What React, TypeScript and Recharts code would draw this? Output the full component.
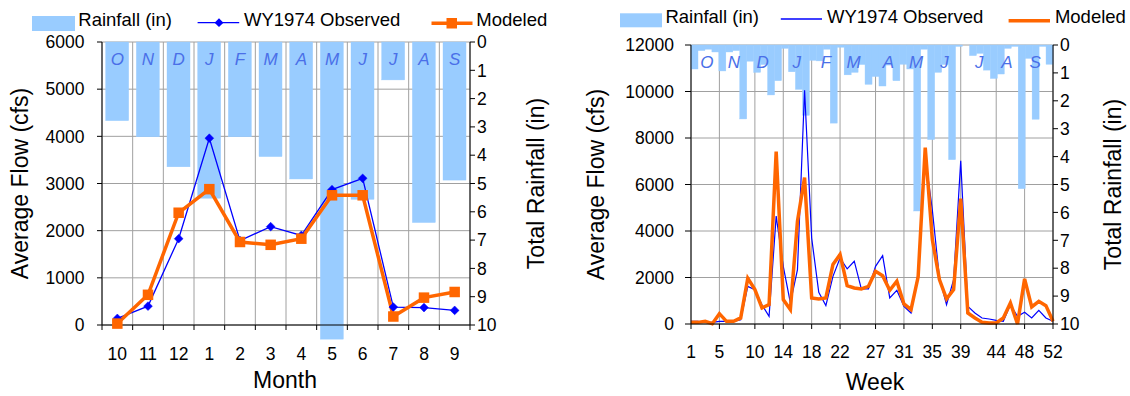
import React from 'react';
import { ComposedChart, Bar, Line, XAxis, YAxis, CartesianGrid, Legend } from 'recharts';

const FONT = '"Liberation Sans", Arial, Helvetica, sans-serif';
const RAIN_COLOR = '#99ccff';
const OBS_COLOR = '#0000ff';
const MOD_COLOR = '#ff6600';
const LETTER_COLOR = '#4a6fe8';
const GRID_COLOR = '#a0a0a0';
const RAIN_MAX = 10;

// ---------- Monthly (left chart) ----------
const months = [10, 11, 12, 1, 2, 3, 4, 5, 6, 7, 8, 9];
const monthLetters = ['O', 'N', 'D', 'J', 'F', 'M', 'A', 'M', 'J', 'J', 'A', 'S'];
const monthlyRain = [2.78, 3.35, 4.41, 5.52, 3.35, 4.05, 4.84, 10.5, 5.56, 1.34, 6.38, 4.88];
const monthlyObserved = [140, 400, 1830, 3960, 1790, 2085, 1900, 2870, 3110, 380, 370, 310];
const monthlyModeled = [30, 640, 2380, 2880, 1760, 1700, 1830, 2750, 2750, 180, 580, 700];
const monthlyFlowTicks = [0, 1000, 2000, 3000, 4000, 5000, 6000];
const rainTicks = [0, 1, 2, 3, 4, 5, 6, 7, 8, 9, 10];

// ---------- Weekly (right chart) ----------
const weeks = Array.from({ length: 52 }, (_, i) => i + 1);
const weeklyRain = [
  0.86, 0.2, 0.15, 0.25, 0.93, 0.25, 0.2, 2.65, 0.58, 0.98,
  0.7, 1.79, 1.28, 0.12, 0.96, 1.59, 2.52, 0.55, 0.57, 0.15,
  2.8, 0.08, 1.07, 0.98, 0.7, 1.41, 1.13, 1.47, 0.72, 1.28,
  0.69, 0.86, 5.95, 0.15, 3.39, 0.98, 0.7, 4.11, 0.05, 0.0,
  0.38, 0.3, 0.9, 1.2, 1.04, 0.12, 0.05, 5.15, 0.48, 2.66,
  0.05, 0.69,
];
const weeklyObserved = [
  115, 115, 72, 72, 115, 115, 115, 187, 1620, 1480,
  830, 330, 4640, 2480, 905, 2340, 10050, 3700, 1360, 790,
  2050, 2840, 2370, 2700, 1510, 1510, 2480, 2940, 1120, 1450,
  760, 474, 2200, 7200, 4900, 1980, 830, 1910, 7020, 760,
  474, 258, 215, 158, 115, 830, 330, 503, 258, 589,
  258, 115,
];
const weeklyModeled = [
  70, 70, 115, 15, 445, 115, 115, 260, 1970, 1480,
  690, 830, 7420, 1050, 617, 4420, 6300, 1120, 1080, 1120,
  2560, 2990, 1650, 1550, 1510, 1620, 2270, 2080, 1450, 1840,
  862, 617, 2030, 7590, 3630, 1910, 1080, 1480, 5390, 474,
  258, 72, 43, 43, 258, 905, 0, 1940, 732, 977,
  790, 115,
];
const weekTicks = [1, 5, 10, 14, 18, 22, 27, 31, 35, 39, 44, 48, 52];
const weeklyFlowTicks = [0, 2000, 4000, 6000, 8000, 10000, 12000];
const weeklyMonthLetterWeeks = [3.25, 7.06, 11.1, 15.9, 20.0, 23.9, 28.8, 32.7, 36.7, 41.6, 45.5, 49.5];

const monthlyData = months.map((m, i) => ({
  month: m,
  slot: i + 0.5,
  rain: monthlyRain[i],
  observed: monthlyObserved[i],
  modeled: monthlyModeled[i],
}));

const weeklyData = weeks.map((w, i) => ({
  week: w,
  rain: weeklyRain[i],
  observed: weeklyObserved[i],
  modeled: weeklyModeled[i],
}));

const boundaryTicks = months.map((_, i) => i).concat([months.length]);

const tickStyle = { fontSize: 17.5, fill: '#000', fontFamily: FONT };

const EmptyTick = () => <g />;

const RainShape = (props: any) => {
  const { x, y, width, height, payload } = props;
  if (x == null || y == null || !payload) return null;
  const full = payload.rain as number;
  const shown = Math.min(full, RAIN_MAX);
  const top = Math.min(y, y + height);
  const h = Math.abs(height);
  const total = shown > 0 ? (h * full) / shown : 0;
  return <rect x={x} y={top} width={width} height={total} fill={RAIN_COLOR} stroke={RAIN_COLOR} strokeWidth={0.4} />;
};

const rainValue = (d: any) => Math.min(d.rain, RAIN_MAX);

const makeLetterTick = (letters: string[]) => (props: any) => {
  const { x, y, index } = props;
  return (
    <text
      x={x}
      y={y + 23}
      textAnchor="middle"
      fill={LETTER_COLOR}
      fontSize={17}
      fontStyle="italic"
      fontFamily={FONT}
    >
      {letters[index]}
    </text>
  );
};

const DiamondDot = (props: any) => {
  const { cx, cy, index } = props;
  if (cx == null || cy == null) return null;
  const r = 4.4;
  return (
    <path
      key={`d-${index}`}
      d={`M${cx},${cy - r} L${cx + r},${cy} L${cx},${cy + r} L${cx - r},${cy} Z`}
      fill={OBS_COLOR}
      stroke={OBS_COLOR}
      strokeWidth={0.5}
    />
  );
};

const SquareDot = (props: any) => {
  const { cx, cy, index } = props;
  if (cx == null || cy == null) return null;
  const s = 10.5;
  return <rect key={`s-${index}`} x={cx - s / 2} y={cy - s / 2} width={s} height={s} fill={MOD_COLOR} />;
};

const vTitle = (text: string, x: number, y: number) => () => (
  <text
    transform={`translate(${x},${y}) rotate(-90)`}
    textAnchor="middle"
    fontSize={23}
    fontFamily={FONT}
    fill="#000"
  >
    {text}
  </text>
);

const hTitle = (text: string, x: number, y: number) => () => (
  <text x={x} y={y} textAnchor="middle" fontSize={23} fontFamily={FONT} fill="#000">
    {text}
  </text>
);

const LegendText = ({ x, y, children }: any) => (
  <text x={x} y={y} fontSize={18.5} fontFamily={FONT} fill="#000">
    {children}
  </text>
);

const LeftLegend = () => (
  <svg width={565} height={40} style={{ display: 'block', overflow: 'visible' }}>
    <rect x={32} y={16} width={43} height={15} fill={RAIN_COLOR} />
    <LegendText x={78.3} y={26}>Rainfall (in)</LegendText>
    <line x1={197.6} x2={239.2} y1={22.7} y2={22.7} stroke={OBS_COLOR} strokeWidth={1.3} />
    <path d="M219,18.3 L223.4,22.7 L219,27.1 L214.6,22.7 Z" fill={OBS_COLOR} />
    <LegendText x={244} y={26}>WY1974 Observed</LegendText>
    <line x1={431.5} x2={472.5} y1={23.3} y2={23.3} stroke={MOD_COLOR} strokeWidth={3.5} />
    <rect x={446.5} y={18} width={10.5} height={10.5} fill={MOD_COLOR} />
    <LegendText x={476.3} y={26}>Modeled</LegendText>
  </svg>
);

const RightLegend = () => (
  <svg width={565} height={40} style={{ display: 'block', overflow: 'visible' }}>
    <rect x={55} y={13.3} width={42} height={14} fill={RAIN_COLOR} />
    <LegendText x={100.4} y={22.5}>Rainfall (in)</LegendText>
    <line x1={215.8} x2={257} y1={19} y2={19} stroke={OBS_COLOR} strokeWidth={1.3} />
    <LegendText x={262} y={22.5}>WY1974 Observed</LegendText>
    <line x1={443.6} x2={485} y1={20.7} y2={20.7} stroke={MOD_COLOR} strokeWidth={3.5} />
    <LegendText x={489.9} y={22.5}>Modeled</LegendText>
  </svg>
);

const MonthlyChart = () => (
  <ComposedChart
    width={565}
    height={396}
    data={monthlyData}
    margin={{ top: 41, right: 0, bottom: 0, left: 0 }}
    barCategoryGap="12%"
  >
    <CartesianGrid xAxisId="a_grid" yAxisId="flow" stroke={GRID_COLOR} strokeWidth={1} />
    <XAxis
      xAxisId="a_grid"
      dataKey="slot"
      type="number"
      domain={[0, months.length]}
      allowDataOverflow
      ticks={boundaryTicks}
      interval={0}
      height={1}
      tick={EmptyTick}
      tickSize={5}
      tickLine={{ stroke: '#000' }}
      axisLine={{ stroke: '#000' }}
    />
    <XAxis
      xAxisId="b_cat"
      dataKey="month"
      height={70}
      interval={0}
      axisLine={false}
      tickLine={false}
      tickSize={5}
      tickMargin={16.5}
      tick={tickStyle}
      label={hTitle('Month', 285, 388.3)}
    />
    <XAxis
      xAxisId="letters"
      dataKey="month"
      orientation="top"
      interval={0}
      height={1}
      axisLine={false}
      tickLine={false}
      tickSize={0}
      tickMargin={0}
      tick={makeLetterTick(monthLetters)}
    />
    <YAxis
      yAxisId="flow"
      domain={[0, 6000]}
      ticks={monthlyFlowTicks}
      interval={0}
      width={102}
      tickSize={5}
      tickMargin={12.5}
      tick={tickStyle}
      tickLine={{ stroke: '#000' }}
      axisLine={{ stroke: '#000' }}
      label={vTitle('Average Flow (cfs)', 27.5, 183.5)}
    />
    <YAxis
      yAxisId="rain"
      orientation="right"
      reversed
      domain={[0, RAIN_MAX]}
      ticks={rainTicks}
      interval={0}
      width={95}
      tickSize={5}
      tickMargin={2}
      tick={tickStyle}
      tickLine={{ stroke: '#000' }}
      axisLine={{ stroke: '#000' }}
      label={vTitle('Total Rainfall (in)', 543.5, 183.5)}
    />
    <Bar
      xAxisId="b_cat"
      yAxisId="rain"
      dataKey={rainValue}
      name="Rainfall (in)"
      fill={RAIN_COLOR}
      shape={RainShape}
      isAnimationActive={false}
    />
    <Line
      xAxisId="b_cat"
      yAxisId="flow"
      dataKey="observed"
      name="WY1974 Observed"
      stroke={OBS_COLOR}
      strokeWidth={1.3}
      dot={DiamondDot}
      activeDot={false}
      type="linear"
      isAnimationActive={false}
    />
    <Line
      xAxisId="b_cat"
      yAxisId="flow"
      dataKey="modeled"
      name="Modeled"
      stroke={MOD_COLOR}
      strokeWidth={3.5}
      dot={SquareDot}
      activeDot={false}
      type="linear"
      isAnimationActive={false}
    />
    <Legend
      layout="horizontal"
      verticalAlign="middle"
      align="center"
      wrapperStyle={{ top: 0, left: 0, width: 565, height: 40 }}
      content={LeftLegend}
    />
  </ComposedChart>
);

const WeeklyChart = () => (
  <ComposedChart
    width={565}
    height={396}
    data={weeklyData}
    margin={{ top: 44, right: 0, bottom: 0, left: 0 }}
    barCategoryGap={0}
    barGap={0}
  >
    <CartesianGrid xAxisId="a_weeks" yAxisId="flow" stroke={GRID_COLOR} strokeWidth={1} />
    <XAxis
      xAxisId="a_weeks"
      dataKey="week"
      type="number"
      domain={[1, 52]}
      ticks={weekTicks}
      interval={0}
      height={72}
      tickSize={5}
      tickMargin={16.5}
      tick={tickStyle}
      tickLine={{ stroke: '#000' }}
      axisLine={{ stroke: '#000' }}
      label={hTitle('Week', 310, 390)}
    />
    <XAxis xAxisId="z_bars" dataKey="week" hide height={0} />
    <XAxis
      xAxisId="letters"
      dataKey="week"
      orientation="top"
      type="number"
      domain={[1, 52]}
      allowDataOverflow
      ticks={weeklyMonthLetterWeeks}
      interval={0}
      height={1}
      axisLine={false}
      tickLine={false}
      tickSize={0}
      tickMargin={0}
      tick={makeLetterTick(monthLetters)}
    />
    <YAxis
      yAxisId="flow"
      domain={[0, 12000]}
      ticks={weeklyFlowTicks}
      interval={0}
      width={126}
      tickSize={6}
      tickMargin={11}
      tick={tickStyle}
      tickLine={{ stroke: '#000' }}
      axisLine={{ stroke: '#000' }}
      label={vTitle('Average Flow (cfs)', 38.5, 184.5)}
    />
    <YAxis
      yAxisId="rain"
      orientation="right"
      reversed
      domain={[0, RAIN_MAX]}
      ticks={rainTicks}
      interval={0}
      width={77}
      tickSize={5}
      tickMargin={2}
      tick={tickStyle}
      tickLine={{ stroke: '#000' }}
      axisLine={{ stroke: '#000' }}
      label={vTitle('Total Rainfall (in)', 555.5, 184.5)}
    />
    <Bar
      xAxisId="z_bars"
      yAxisId="rain"
      dataKey={rainValue}
      name="Rainfall (in)"
      fill={RAIN_COLOR}
      shape={RainShape}
      isAnimationActive={false}
    />
    <Line
      xAxisId="a_weeks"
      yAxisId="flow"
      dataKey="observed"
      name="WY1974 Observed"
      stroke={OBS_COLOR}
      strokeWidth={1.2}
      dot={false}
      activeDot={false}
      type="linear"
      isAnimationActive={false}
    />
    <Line
      xAxisId="a_weeks"
      yAxisId="flow"
      dataKey="modeled"
      name="Modeled"
      stroke={MOD_COLOR}
      strokeWidth={3.5}
      dot={false}
      activeDot={false}
      type="linear"
      isAnimationActive={false}
    />
    <Legend
      layout="horizontal"
      verticalAlign="middle"
      align="center"
      wrapperStyle={{ top: 0, left: 0, width: 565, height: 40 }}
      content={RightLegend}
    />
  </ComposedChart>
);

export default function App() {
  return (
    <div
      style={{
        position: 'absolute',
        left: 0,
        top: 0,
        width: 1130,
        height: 396,
        background: '#fff',
        display: 'flex',
        fontFamily: FONT,
      }}
    >
      <MonthlyChart />
      <WeeklyChart />
    </div>
  );
}
